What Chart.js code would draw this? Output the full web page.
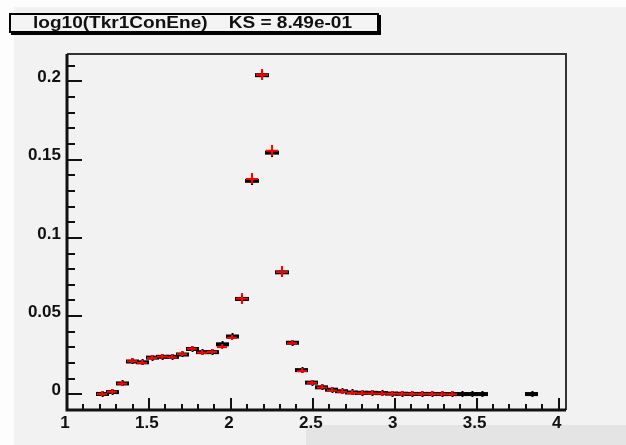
<!DOCTYPE html>
<html>
<head>
<meta charset="utf-8">
<script src="https://cdn.jsdelivr.net/npm/chart.js@4.4.1/dist/chart.umd.min.js"></script>
<style>
  body { margin: 0; background: #f2f2f2; }
  #wrap { position: relative; width: 626px; height: 445px; overflow: hidden; }
  .strip { position: absolute; background: #fdfdfd; }
  #shade { position: absolute; left: 306px; top: 425px; width: 320px; height: 20px; background: #e4e4e4; }
  #titlebox {
    position: absolute; left: 9px; top: 13px; width: 366px; height: 16px;
    border: 2px solid #000; box-shadow: 2px 2px 0 #000; background: #f4f4f4;
  }
  #titlebox span {
    position: absolute; left: 22px; top: -1px; white-space: pre;
    font: bold 16px "Liberation Sans", Arial, sans-serif; color: #111;
    transform: scaleX(1.19); transform-origin: left center;
  }
  canvas { position: absolute; left: 0; top: 0; }
</style>
</head>
<body>
<div id="wrap">
  <div class="strip" style="left:0;top:0;width:14px;height:445px"></div>
  <div class="strip" style="left:0;top:0;width:626px;height:7px"></div>
  <div id="shade"></div>
  <canvas id="myChart" width="626" height="445"></canvas>
  <div id="titlebox"><span>log10(Tkr1ConEne)    KS = 8.49e-01</span></div>
</div>
<script>
// bin centres (bin width ~0.061 between 1 and 4.05)
const binCenters = [1.214, 1.275, 1.336, 1.397, 1.458, 1.519, 1.580, 1.641, 1.702, 1.763,
   1.824, 1.885, 1.946, 2.007, 2.068, 2.129, 2.190, 2.251, 2.312, 2.373,
   2.434, 2.495, 2.556, 2.617, 2.678, 2.739, 2.800, 2.861, 2.922, 2.983,
   3.044, 3.105, 3.166, 3.227, 3.288, 3.349, 3.410, 3.471, 3.532, 3.593,
   3.654, 3.715, 3.776, 3.837];

// reference histogram (black)
const refValues = [0.0003, 0.0015, 0.007, 0.021, 0.0205, 0.0235, 0.024, 0.024, 0.0255, 0.029,
   0.027, 0.027, 0.032, 0.037, 0.061, 0.1365, 0.204, 0.1545, 0.078, 0.033,
   0.0155, 0.0075, 0.0045, 0.003, 0.002, 0.0012, 0.001, 0.001, 0.0008, 0.0005,
   0.0004, 0.0003, 0.0003, 0.0003, 0.0002, 0.0002, 0.0002, 0.0002, 0.0002, null,
   null, null, null, 0.0002];

// compared histogram (red)
const cmpValues = [0.0005, 0.002, 0.0072, 0.0215, 0.0205, 0.0235, 0.0245, 0.024, 0.026, 0.0295,
   0.027, 0.0275, 0.0305, 0.0365, 0.0615, 0.138, 0.2045, 0.156, 0.0785, 0.033,
   0.0152, 0.0077, 0.0047, 0.0028, 0.002, 0.0012, 0.001, 0.0009, 0.0008, 0.0007,
   0.0007, 0.0006, 0.0005, 0.0005, 0.0004, 0.0004, null, null, null, null,
   null, null, null, null];

const xTickLabels = [1, 1.5, 2, 2.5, 3, 3.5, 4];
const yTickLabels = [0, 0.05, 0.1, 0.15, 0.2];

// =========================== //

function marker(color, w, h, lwH, lwV) {
   const c = document.createElement('canvas');
   c.width = w;
   c.height = h;
   const g = c.getContext('2d');
   g.fillStyle = color;
   g.fillRect(0, Math.round((h - lwH) / 2), w, lwH);
   g.fillRect(Math.round((w - lwV) / 2), 0, lwV, h);
   return c;
}

const blackBig = marker('#000', 14, 8, 4, 2);
const blackSmall = marker('#000', 13, 6, 4, 2);
const redBig = marker('#ff0000', 12, 11, 2, 2);
const redSmall = marker('#ff0000', 10, 5, 2, 2);

function toPoints(vals) {
   const pts = [];
   vals.forEach((v, i) => { if (v !== null) pts.push({ x: binCenters[i], y: v }); });
   return pts;
}

function isMajor(v, list) {
   return list.some(t => Math.abs(t - v) < 1e-6);
}

// frame + ROOT style ticks drawn inside the frame
const rootFrame = {
   id: 'rootFrame',
   afterDraw(chart) {
      const { ctx, chartArea: a, scales } = chart;
      ctx.save();
      ctx.strokeStyle = '#111';
      ctx.lineWidth = 2;
      scales.x.ticks.forEach(t => {
         const px = Math.round(scales.x.getPixelForValue(t.value));
         const len = isMajor(t.value, xTickLabels) ? 12 : 6;
         ctx.beginPath();
         ctx.moveTo(px, a.bottom);
         ctx.lineTo(px, a.bottom - len);
         ctx.stroke();
      });
      scales.y.ticks.forEach(t => {
         const py = Math.round(scales.y.getPixelForValue(t.value));
         const len = isMajor(t.value, yTickLabels) ? 15 : 8;
         ctx.beginPath();
         ctx.moveTo(a.left, py);
         ctx.lineTo(a.left + len, py);
         ctx.stroke();
      });
      ctx.lineWidth = 2;
      ctx.strokeStyle = '#333';
      ctx.beginPath();
      ctx.moveTo(a.left, a.top);
      ctx.lineTo(a.right, a.top);
      ctx.lineTo(a.right, a.bottom);
      ctx.stroke();
      ctx.lineWidth = 3;
      ctx.strokeStyle = '#111';
      ctx.beginPath();
      ctx.moveTo(a.left, a.top);
      ctx.lineTo(a.left, a.bottom);
      ctx.lineTo(a.right, a.bottom);
      ctx.stroke();
      ctx.restore();
   }
};

const ctx = document.getElementById('myChart').getContext('2d');
const myChart = new Chart(ctx, {
   type: 'scatter',
   data: {
      datasets: [{
         label: 'compared',
         data: toPoints(cmpValues),
         pointStyle: c => (c.raw && c.raw.y > 0.05 ? redBig : redSmall),
         pointRadius: 5,
         showLine: false
      }, {
         label: 'reference',
         data: toPoints(refValues),
         pointStyle: c => (c.raw && c.raw.y > 0.05 ? blackBig : blackSmall),
         pointRadius: 5,
         showLine: false
      }]
   },
   options: {
      responsive: false,
      animation: false,
      events: [],
      layout: { padding: { top: 54, right: 60, left: 0, bottom: 0 } },
      plugins: { legend: { display: false }, tooltip: { enabled: false } },
      scales: {
         x: {
            type: 'linear',
            min: 1,
            max: 4.045,
            afterFit: s => { s.height = 35; },
            afterBuildTicks: s => {
               const ticks = [];
               for (let i = 0; i <= 30; i++) ticks.push({ value: 1 + i * 0.1 });
               s.ticks = ticks;
            },
            grid: { display: false, drawTicks: false },
            border: { display: false },
            ticks: {
               padding: 3,
               labelOffset: -2,
               maxRotation: 0,
               autoSkip: false,
               color: '#111',
               font: { family: '"Liberation Sans", Arial, sans-serif', size: 17, weight: 'bold' },
               callback: v => (isMajor(v, xTickLabels) ? String(+v.toFixed(2)) : '')
            }
         },
         y: {
            type: 'linear',
            min: -0.01,
            max: 0.2175,
            afterFit: s => { s.width = 67; },
            afterBuildTicks: s => {
               const ticks = [];
               for (let i = -1; i <= 21; i++) ticks.push({ value: i * 0.01 });
               s.ticks = ticks;
            },
            grid: { display: false, drawTicks: false },
            border: { display: false },
            ticks: {
               padding: 6,
               labelOffset: -4,
               autoSkip: false,
               color: '#111',
               font: { family: '"Liberation Sans", Arial, sans-serif', size: 17, weight: 'bold' },
               callback: v => (isMajor(v, yTickLabels) ? String(+v.toFixed(2)) : '')
            }
         }
      }
   },
   plugins: [rootFrame]
});
</script>
</body>
</html>
